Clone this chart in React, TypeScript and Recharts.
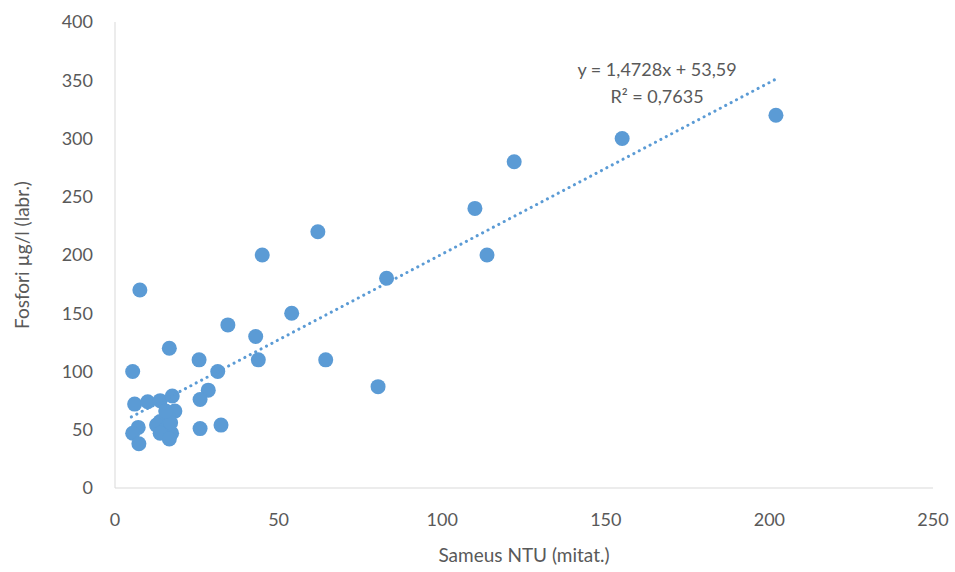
import React from 'react';
import { ComposedChart, Scatter, XAxis, YAxis, Label } from 'recharts';

// Sameus (NTU) vs fosfori (µg/l)
const ntu = [
  202, 155, 122, 110, 113.7, 62, 45, 83, 54, 34.5, 43, 7.6, 80.4, 64.4,
  16.6, 25.7, 43.8, 5.4, 31.4, 28.5, 26, 6, 10, 13.8, 17.5, 18.3, 16.3,
  13.8, 12.7, 15.3, 17.3, 13.8, 16.6, 7.1, 5.4, 7.3, 26, 32.4, 17, 15.5,
];
const fosfori = [
  320, 300, 280, 240, 200, 220, 200, 180, 150, 140, 130, 170, 87, 110,
  120, 110, 110, 100, 100, 84, 76, 72, 74, 75, 79, 66, 61,
  57, 54, 50, 47, 47, 42, 52, 47, 38, 51, 54, 56, 66,
];

// trend line end points
const trendX = [5, 202];
const trendY = [61, 351];

const xTicks = [0, 50, 100, 150, 200, 250];
const yTicks = [0, 50, 100, 150, 200, 250, 300, 350, 400];

const points = ntu.map((x, i) => ({ x, y: fosfori[i] }));
const trend = trendX.map((x, i) => ({ x, y: trendY[i] }));

const BLUE = '#5B9BD5';
const TEXT = '#595959';
const FONT = 'Lato, "Open Sans", sans-serif';

const Dot = (props: any) => <circle cx={props.cx} cy={props.cy} r={7.5} fill={BLUE} />;

const App: React.FC = () => {
  return (
    <div style={{ position: 'absolute', left: 0, top: 0, width: 955, height: 572, fontFamily: FONT }}>
      <ComposedChart width={955} height={572} margin={{ top: 22, right: 22, bottom: 0, left: 0 }}>
        <XAxis
          type="number"
          dataKey="x"
          domain={[0, 250]}
          ticks={xTicks}
          tickLine={false}
          tickSize={0}
          tickMargin={25}
          height={84}
          stroke="#D9D9D9"
          tick={{ fill: TEXT, fontSize: 18, fontFamily: FONT }}
        >
          <Label value="Sameus NTU (mitat.)" position="insideBottom" offset={10} fill={TEXT} fontSize={19} fontFamily={FONT} />
        </XAxis>
        <YAxis
          type="number"
          dataKey="y"
          domain={[0, 400]}
          ticks={yTicks}
          tickLine={false}
          tickSize={0}
          tickMargin={22}
          width={115}
          stroke="#D9D9D9"
          tick={{ fill: TEXT, fontSize: 18, fontFamily: FONT }}
        >
          <Label value="Fosfori µg/l (labr.)" angle={-90} position="insideLeft" offset={22} fill={TEXT} fontSize={19} fontFamily={FONT} style={{ textAnchor: 'middle' }} />
        </YAxis>
        <Scatter data={points} fill={BLUE} shape={Dot} isAnimationActive={false} />
        <Scatter
          data={trend}
          line={{ stroke: BLUE, strokeWidth: 3, strokeDasharray: '0.1 6', strokeLinecap: 'round' }}
          shape={() => <g />}
          isAnimationActive={false}
        />
      </ComposedChart>
      <div style={{ position: 'absolute', left: 557, top: 56, width: 200, textAlign: 'center', color: TEXT, fontSize: 18, lineHeight: '27px' }}>
        <div>y = 1,4728x + 53,59</div>
        <div>R² = 0,7635</div>
      </div>
    </div>
  );
};

export default App;
